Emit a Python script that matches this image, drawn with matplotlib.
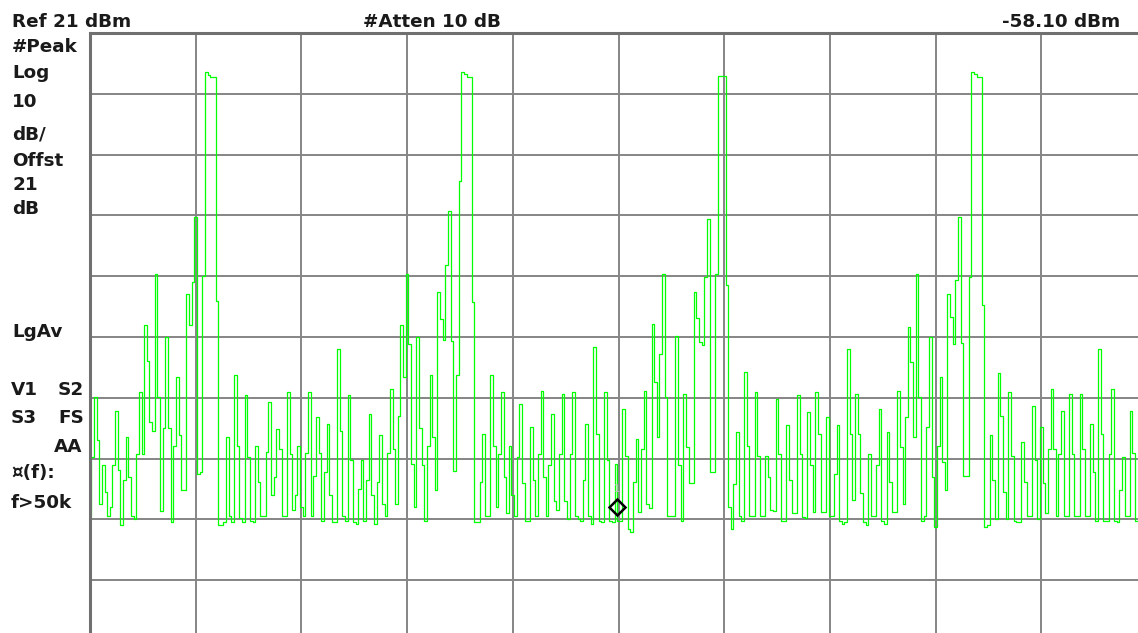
import numpy as np
from matplotlib import pyplot as plt
from matplotlib import transforms

# spectrum analyser trace, 401 sweep points over 10 divisions (dBm)
trace_dbm = [
    -58.5, -48.8, -38.9, -46.0, -56.5, -50.0, -54.5, -58.5, -57.0, -50.1,
    -41.1, -50.8, -60.0, -52.6, -45.5, -52.0, -58.5, -59.0, -48.2, -38.1,
    -48.2, -27.1, -32.9, -43.0, -44.5, -18.6, -38.9, -57.6, -44.0, -29.0,
    -44.0, -59.5, -47.0, -35.6, -45.2, -54.2, -54.2, -21.9, -27.0, -20.0,
    -9.3, -51.5, -51.2, -18.9, 14.6, 14.1, 13.8, 13.8, -23.0, -60.0,
    -60.0, -59.5, -45.5, -58.5, -59.5, -35.3, -47.0, -58.8, -59.5, -38.6,
    -48.8, -59.2, -59.5, -47.0, -52.8, -58.5, -58.5, -47.9, -39.7, -55.0,
    -52.0, -44.1, -47.5, -58.5, -58.5, -38.0, -48.2, -57.5, -55.0, -47.0,
    -57.0, -58.5, -48.0, -38.1, -58.5, -51.8, -42.2, -48.0, -59.3, -51.2,
    -43.3, -55.0, -59.5, -59.5, -30.9, -44.4, -58.4, -59.2, -38.6, -49.3,
    -59.4, -59.7, -54.0, -49.3, -59.2, -52.5, -41.6, -55.0, -59.7, -52.8,
    -45.2, -56.4, -58.4, -48.0, -37.5, -47.4, -56.4, -42.0, -27.1, -35.6,
    -18.6, -30.1, -49.9, -57.0, -29.0, -44.0, -50.0, -59.2, -47.0, -35.3,
    -45.5, -54.2, -21.6, -26.0, -29.5, -17.2, -8.2, -29.6, -51.0, -35.3,
    -3.3, 14.6, 14.2, 13.8, 13.8, -23.3, -59.4, -59.4, -52.8, -44.9,
    -58.4, -58.5, -35.3, -47.0, -57.0, -48.2, -38.1, -52.0, -58.0, -47.0,
    -55.0, -58.5, -48.8, -40.0, -53.0, -59.2, -59.2, -43.8, -52.5, -58.4,
    -48.2, -37.8, -52.0, -58.4, -50.0, -41.6, -56.0, -57.5, -48.2, -38.3,
    -56.0, -59.0, -48.2, -38.1, -58.5, -59.0, -59.3, -52.6, -43.3, -58.5,
    -59.7, -30.7, -45.0, -59.2, -59.5, -38.1, -49.3, -59.2, -59.5, -49.9,
    -59.2, -59.2, -40.8, -48.5, -60.5, -61.0, -52.8, -45.7, -57.8, -47.5,
    -37.8, -56.4, -57.2, -26.8, -36.4, -45.5, -31.8, -18.6, -38.9, -58.4,
    -58.4, -58.5, -28.8, -50.0, -59.3, -38.3, -47.1, -53.0, -53.0, -21.6,
    -25.8, -29.8, -30.3, -19.2, -9.6, -51.2, -51.2, -18.6, 14.0, 13.9,
    13.9, -20.5, -57.0, -60.5, -53.1, -44.6, -58.5, -59.2, -34.8, -47.0,
    -58.5, -58.5, -38.1, -48.5, -58.4, -58.4, -48.5, -52.0, -57.5, -57.6,
    -39.2, -48.2, -59.2, -59.2, -43.5, -52.6, -58.0, -58.0, -38.6, -48.2,
    -58.6, -58.8, -41.4, -50.0, -57.8, -38.1, -45.0, -57.8, -57.8, -42.2,
    -58.4, -58.4, -51.5, -43.5, -59.2, -59.8, -59.5, -30.9, -45.0, -55.8,
    -38.3, -45.0, -54.7, -59.5, -60.0, -48.2, -58.4, -58.4, -50.0, -40.8,
    -59.2, -59.7, -44.6, -52.8, -57.8, -57.8, -37.8, -47.1, -56.4, -42.2,
    -27.4, -33.1, -45.5, -18.6, -38.9, -59.3, -58.4, -43.8, -29.0, -52.0,
    -60.3, -47.0, -35.6, -49.5, -54.2, -21.9, -25.7, -30.1, -19.7, -9.3,
    -30.0, -51.8, -51.8, -19.2, 14.6, 14.2, 13.8, 13.8, -23.8, -60.2,
    -60.0, -45.2, -52.5, -59.0, -35.0, -42.0, -54.5, -59.0, -38.1, -48.5,
    -59.3, -59.5, -59.5, -46.3, -52.8, -58.5, -58.5, -40.3, -49.2, -59.0,
    -43.8, -53.0, -58.0, -47.5, -37.5, -47.5, -58.4, -48.2, -41.1, -58.5,
    -58.5, -38.3, -48.2, -58.5, -58.5, -38.3, -47.5, -58.5, -58.5, -43.3,
    -51.2, -59.2, -30.9, -45.0, -59.3, -59.3, -48.2, -37.5, -59.3, -59.5,
    -54.2, -48.8, -58.4, -58.4, -41.1, -48.0, -59.2, -59.2, -59.2, -59.2,
    -59.2,
]

ref_level = 21
db_per_div = 10
n_div = 10

marker_div = 5.0
marker_dbm = -58.10

header_texts = ["Ref 21 dBm", "#Atten 10 dB", "-58.10 dBm"]
side_texts = ["#Peak", "Log", "10", "dB/", "Offst", "21", "dB", "LgAv",
              "V1", "S2", "S3", "FS", "AA", "\u00a4(f):", "f>50k"]

W, H = 1138, 633
fig = plt.figure(figsize=(W / 100, H / 100), dpi=100)
fig.patch.set_facecolor("white")

# graticule: left edge x=90, top y=33, 105.7 px/div, 60.8 px/div (runs past the image)
ax = fig.add_axes([90 / W, (H - 641) / H, 1057 / W, 608 / H])
ax.set_xlim(0, n_div)
ax.set_ylim(ref_level - n_div * db_per_div, ref_level)
ax.set_xticks(np.arange(0, n_div + 1))
ax.set_yticks(np.arange(ref_level - n_div * db_per_div, ref_level + 1, db_per_div))
ax.tick_params(length=0, labelleft=False, labelbottom=False)
ax.grid(True, color="#858585", linewidth=1.4)
ax.set_axisbelow(True)
for side in ["right", "bottom"]:
    ax.spines[side].set_visible(False)
for side in ["left", "top"]:
    ax.spines[side].set_color("#707070")
    ax.spines[side].set_linewidth(2.2)

freq = np.linspace(0, n_div, len(trace_dbm))
ax.plot(freq, trace_dbm, color="#00ff00", linewidth=0.9, drawstyle="steps-mid")

# marker diamond sits just above the trace point
mk_trans = transforms.offset_copy(ax.transData, fig=fig, x=-1.5, y=7, units="dots")
ax.plot([marker_div], [marker_dbm], marker="D", markersize=8.5, markerfacecolor="none",
        markeredgecolor="black", markeredgewidth=1.8, transform=mk_trans, clip_on=False)
ax.text(marker_div, marker_dbm, "1", transform=transforms.offset_copy(
    ax.transData, fig=fig, x=-1.5, y=25, units="dots"),
    fontsize=7, color="#c4c4c4", ha="center", va="center")


def px_text(x, y, s, ha="left"):
    fig.text(x / W, 1 - y / H, s, ha=ha, va="baseline", fontsize=13.2,
             fontweight="bold", family="DejaVu Sans", color="#1a1a1a")


px_text(12, 26.7, header_texts[0])
px_text(363, 26.7, header_texts[1])
px_text(1120, 26.7, header_texts[2], ha="right")

side_pos = [(12, 51.7), (12, 78.3), (12, 107.3), (12, 139.3), (12, 165.7),
            (12, 190), (12, 214.3), (12, 336.7),
            (11, 395), (58, 395), (11, 422.7), (58, 422.7), (54, 451.7),
            (11, 478.5), (11, 508.3)]
for s, (x, y) in zip(side_texts, side_pos):
    px_text(x, y, s)

fig.savefig("out.png", dpi=100)
